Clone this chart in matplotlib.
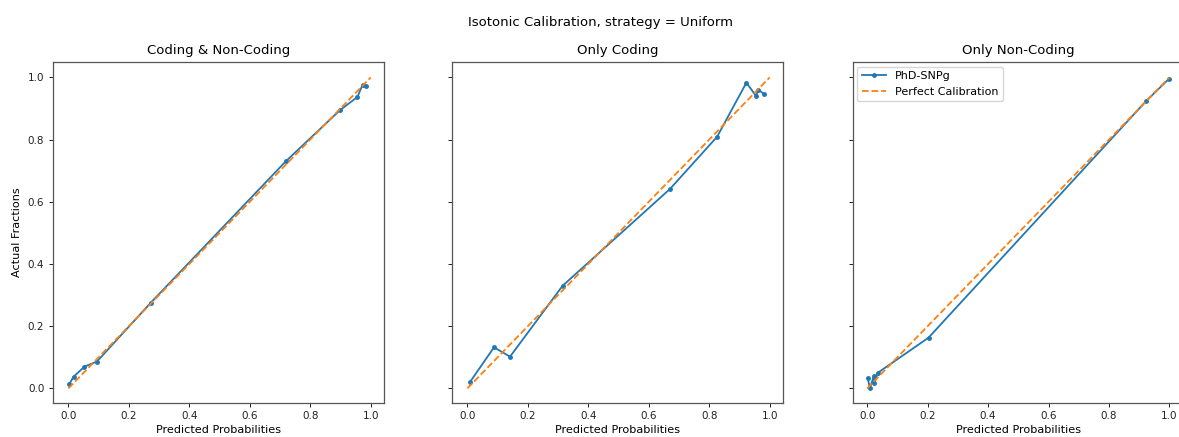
import matplotlib
matplotlib.use("Agg")
import matplotlib.pyplot as plt

suptitle = "Isotonic Calibration, strategy = Uniform"
titles = ["Coding & Non-Coding", "Only Coding", "Only Non-Coding"]
model_name = "PhD-SNPg"

x_all = [0.003, 0.017, 0.053, 0.094, 0.272, 0.719, 0.899, 0.956, 0.973, 0.985]
y_all = [0.014, 0.0375, 0.070, 0.086, 0.275, 0.730, 0.895, 0.937, 0.976, 0.972]

x_coding = [0.009, 0.088, 0.141, 0.315, 0.670, 0.826, 0.923, 0.955, 0.962, 0.982]
y_coding = [0.021, 0.132, 0.102, 0.330, 0.641, 0.809, 0.983, 0.940, 0.961, 0.946]

x_noncoding = [0.002, 0.009, 0.022, 0.024, 0.035, 0.203, 0.922, 0.999]
y_noncoding = [0.033, 0.000, 0.040, 0.016, 0.050, 0.163, 0.923, 0.996]

perfect = [0, 1]

series = [(x_all, y_all), (x_coding, y_coding), (x_noncoding, y_noncoding)]

fig = plt.figure(figsize=(11.79, 4.37), dpi=100)
lefts = [0.0447, 0.3831, 0.7232]
axes = []
for i, left in enumerate(lefts):
    ax = fig.add_axes([left, 0.0778, 0.281, 0.780],
                      sharey=axes[0] if axes else None)
    axes.append(ax)

for i, ax in enumerate(axes):
    xs, ys = series[i]
    ax.plot(xs, ys, marker='.', color='#1f77b4', lw=1.3, markersize=5,
            label=model_name)
    ax.plot(perfect, perfect, linestyle='--', color='#ff7f0e', lw=1.3,
            label='Perfect Calibration')
    ax.set_title(titles[i], fontsize=9.5)
    ax.set_xlabel("Predicted Probabilities", fontsize=8.1, labelpad=2.5)
    ax.set_xticks([0.0, 0.2, 0.4, 0.6, 0.8, 1.0])
    ax.set_yticks([0.0, 0.2, 0.4, 0.6, 0.8, 1.0])
    ax.tick_params(labelsize=7.5, length=3, width=0.7, pad=3, colors='#222222')
    for s in ax.spines.values():
        s.set_linewidth(0.9)
        s.set_color('#555555')
    if i > 0:
        ax.tick_params(labelleft=False)

axes[0].set_xlim(-0.052, 1.044)
axes[1].set_xlim(-0.052, 1.044)
axes[2].set_xlim(-0.048, 1.048)
axes[0].set_ylim(-0.047, 1.049)
axes[0].set_ylabel("Actual Fractions", fontsize=8.1, labelpad=4)
axes[2].legend(loc='upper left', fontsize=8, handlelength=2.2,
               borderaxespad=0.4, framealpha=0.8)

fig.text(0.509, 0.949, suptitle, ha='center', va='center', fontsize=9.5)

fig.savefig("out.png", dpi=100)
